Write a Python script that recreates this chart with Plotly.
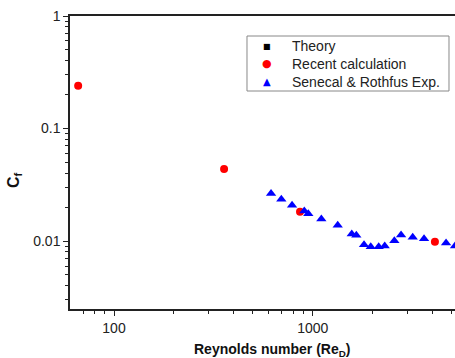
import plotly.graph_objects as go

# Data
theory_re = [66, 358, 863, 4120]
theory_cf = [0.240, 0.0437, 0.0182, 0.00986]

calc_re = [66, 358, 863, 4120]
calc_cf = [0.240, 0.0437, 0.0182, 0.00986]

exp_re = [617, 695, 787, 907, 950, 1105, 1336, 1572, 1657, 1812, 1959, 2148,
          2303, 2575, 2783, 3186, 3633, 4688, 5200]
exp_cf = [0.0265, 0.0235, 0.0208, 0.0185, 0.0175, 0.0157, 0.0138, 0.01154,
          0.01124, 0.00927, 0.00890, 0.00890, 0.00903, 0.01006, 0.0113,
          0.0108, 0.01048, 0.00960, 0.00903]

series_names = ["Theory", "Recent calculation", "Senecal & Rothfus Exp."]
series_glyphs = ["■", "●", "▲"]
series_colors = ["black", "#ff0000", "#0000ff"]

x_tickvals = [100, 1000]
x_ticktext = ["100", "1000"]
y_tickvals = [0.01, 0.1, 1]
y_ticktext = ["0.01", "0.1", "1"]

x_minor = [m * 10 ** e for e in (1, 2, 3) for m in range(2, 10)]
y_minor = [m * 10 ** e for e in (-3, -2, -1) for m in range(2, 10)]

fig = go.Figure()
fig.add_trace(go.Scatter(x=theory_re, y=theory_cf, mode="markers", name=series_names[0],
                         marker=dict(symbol="square", size=5, color=series_colors[0])))
fig.add_trace(go.Scatter(x=calc_re, y=calc_cf, mode="markers", name=series_names[1],
                         marker=dict(symbol="circle", size=8, color=series_colors[1])))
fig.add_trace(go.Scatter(x=exp_re, y=exp_cf, mode="markers", name=series_names[2],
                         marker=dict(symbol="triangle-up", size=9, color=series_colors[2])))

font = "Liberation Sans, Arial, sans-serif"

# manual legend (layout positions in paper coordinates)
leg_rows_y = [0.8976, 0.8372, 0.7758]
leg_marker_x = 0.5117
leg_text_x = 0.5714
glyph_sizes = [8, 11, 10]
annotations = []
for name, glyph, color, yy, gs in zip(series_names, series_glyphs, series_colors,
                                      leg_rows_y, glyph_sizes):
    annotations.append(dict(text=glyph, xref="paper", yref="paper", x=leg_marker_x, y=yy,
                            xanchor="center", yanchor="middle", showarrow=False,
                            font=dict(size=gs, family="DejaVu Sans", color=color)))
    annotations.append(dict(text=name, xref="paper", yref="paper", x=leg_text_x, y=yy,
                            xanchor="left", yanchor="middle", showarrow=False,
                            font=dict(size=14, family=font, color="#222222")))
annotations += [
    dict(text="<b>Reynolds number (Re<sub>D</sub>)</b>", xref="paper", yref="paper",
         x=0.525, y=-0.14, xanchor="center", yanchor="middle", showarrow=False,
         font=dict(size=14, family=font, color="#111111")),
    dict(text="<b>C<sub>f</sub></b>", xref="paper", yref="paper",
         x=-0.1455, y=0.44, xanchor="center", yanchor="middle", showarrow=False,
         textangle=-90, font=dict(size=16, family=font, color="#111111")),
]

fig.update_layout(
    width=455, height=358,
    margin=dict(l=70, r=0, t=16, b=49, autoexpand=False),
    plot_bgcolor="white", paper_bgcolor="white",
    font=dict(family=font, color="#222222", size=14),
    showlegend=False,
    xaxis=dict(type="log", range=[1.7785, 3.716], automargin=False,
               tickmode="array", tickvals=x_tickvals, ticktext=x_ticktext,
               ticks="outside", ticklen=5, tickwidth=1, tickcolor="#222222",
               showline=True, linecolor="#222222", linewidth=1.5, mirror=True,
               showgrid=False, zeroline=False,
               tickfont=dict(size=14),
               minor=dict(tickmode="array", tickvals=x_minor, ticks="outside",
                          ticklen=3, tickcolor="#222222", showgrid=False)),
    yaxis=dict(type="log", range=[-2.604, 0], automargin=False,
               tickmode="array", tickvals=y_tickvals, ticktext=y_ticktext,
               ticks="outside", ticklen=5, tickwidth=1, tickcolor="#222222",
               showline=True, linecolor="#222222", linewidth=1.5, mirror=False,
               showgrid=False, zeroline=False,
               tickfont=dict(size=14),
               minor=dict(tickmode="array", tickvals=y_minor, ticks="outside",
                          ticklen=3, tickcolor="#222222", showgrid=False)),
    shapes=[dict(type="rect", xref="paper", yref="paper", x0=0.4597, x1=0.9844,
                 y0=0.744, y1=0.9317, line=dict(color="#888888", width=1),
                 fillcolor="white", layer="below")],
    annotations=annotations,
)

fig.write_html("out.html", config={"displayModeBar": False},
               post_script="document.body.style.margin='0';")
